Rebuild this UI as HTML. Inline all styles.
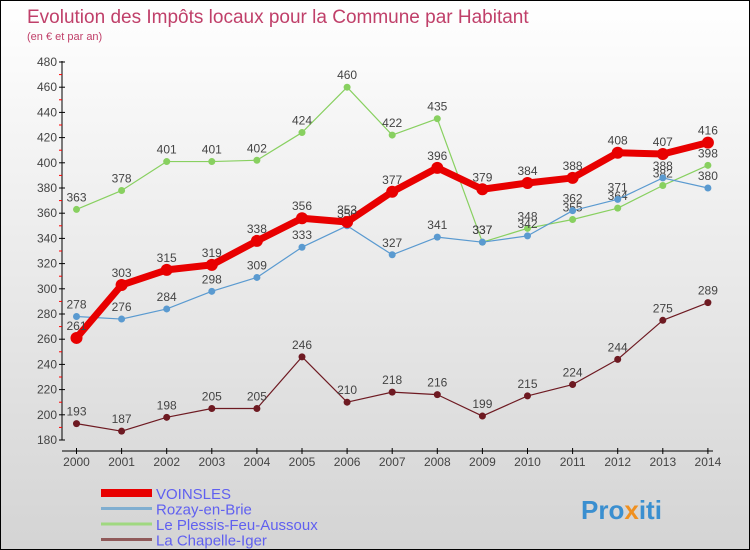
<!DOCTYPE html>
<html><head><meta charset="utf-8"><style>
body{margin:0}
#c{width:748px;height:548px;border:1px solid #000;background:linear-gradient(#fff,#d4d4d4);position:relative;font-family:"Liberation Sans",sans-serif;overflow:hidden}
</style></head><body>
<div id="c">
<svg id="s" width="748" height="548" xmlns="http://www.w3.org/2000/svg">
<text x="26" y="22" font-size="19" fill="#c0406a">Evolution des Impôts locaux pour la Commune par Habitant</text>
<text x="26" y="39" font-size="11" fill="#c0406a">(en € et par an)</text>
<g id="ax"></g><g id="marks"></g><g id="leg"></g>
<text x="580" y="518" font-size="26" font-weight="bold" fill="#3a8fd0">Pro<tspan fill="#f09020">x</tspan>iti</text>
</svg></div>
<script>
const years=[2000,2001,2002,2003,2004,2005,2006,2007,2008,2009,2010,2011,2012,2013,2014];
const voinsles=[261,303,315,319,338,356,353,377,396,379,384,388,408,407,416];
const rozay=[278,276,284,298,309,333,350,327,341,337,342,362,371,388,380];
const plessis=[363,378,401,401,402,424,460,422,435,337,348,355,364,382,398];
const chapelle=[193,187,198,205,205,246,210,218,216,199,215,224,244,275,289];
const yTicks=[180,200,220,240,260,280,300,320,340,360,380,400,420,440,460,480];
const NS="http://www.w3.org/2000/svg";
const X=i=>75.5+i*45.1, Y=v=>439-(v-180)*(378/300);
function mk(t,a,p){const e=document.createElementNS(NS,t);for(const k in a)e.setAttribute(k,a[k]);p.appendChild(e);return e;}
const ax=document.getElementById('ax'),mg=document.getElementById('marks'),lg=document.getElementById('leg');
let e=mk('line',{x1:61,y1:60,x2:61,y2:439,stroke:'#000'},ax);


e=mk('line',{x1:61,y1:450,x2:712,y2:450,stroke:'#000'},ax);


yTicks.forEach(v=>{mk('line',{x1:58,x2:64,y1:Y(v),y2:Y(v),stroke:'#000'},ax);
 if(v<480)mk('line',{x1:58,x2:61,y1:Y(v+10),y2:Y(v+10),stroke:'#f00'},ax);
 const t=mk('text',{x:56,y:Y(v)+4,'font-size':12,'text-anchor':'end',fill:'#444'},ax);t.textContent=v;
 
 });
years.forEach((y,i)=>{mk('line',{x1:X(i),x2:X(i),y1:447,y2:453,stroke:'#000'},ax);
 const t=mk('text',{x:X(i),y:465,'font-size':12,'text-anchor':'middle',fill:'#444'},ax);t.textContent=y;
 
 });
function series(d,col,w,r,name){
 const g=mk('g',{},mg);
 
 
 mk('polyline',{points:d.map((v,i)=>X(i)+','+Y(v)).join(' '),fill:'none',stroke:col,'stroke-width':w,'stroke-linejoin':'round'},g);
 d.forEach((v,i)=>{const c=mk('circle',{cx:X(i),cy:Y(v),r:r,fill:col},g);
  
  
  const t=mk('text',{x:X(i),y:Y(v)-8,'font-size':12,'text-anchor':'middle',fill:'#444'},g);t.textContent=v;
  
  });
}
series(chapelle,'#6e1a22',1.2,3.5,'la-chapelle-iger');
series(plessis,'#88d060',1.2,3.5,'le-plessis-feu-aussoux');
series(rozay,'#5a9ad0',1.2,3.5,'rozay-en-brie');
series(voinsles,'#e80000',7,6,'voinsles');
const legNames=['VOINSLES','Rozay-en-Brie','Le Plessis-Feu-Aussoux','La Chapelle-Iger'];
const legCols=['#e80000','#80aed0','#a0d880','#905a5a'];
legNames.forEach((n,i)=>{const y=492+i*15.5;
 mk('line',{x1:100,x2:151,y1:y,y2:y,stroke:legCols[i],'stroke-width':i?3:8},lg);
 const t=mk('text',{x:155,y:y+6,'font-size':15,fill:'#6060f0'},lg);t.textContent=n;
 
 });
</script></body></html>
